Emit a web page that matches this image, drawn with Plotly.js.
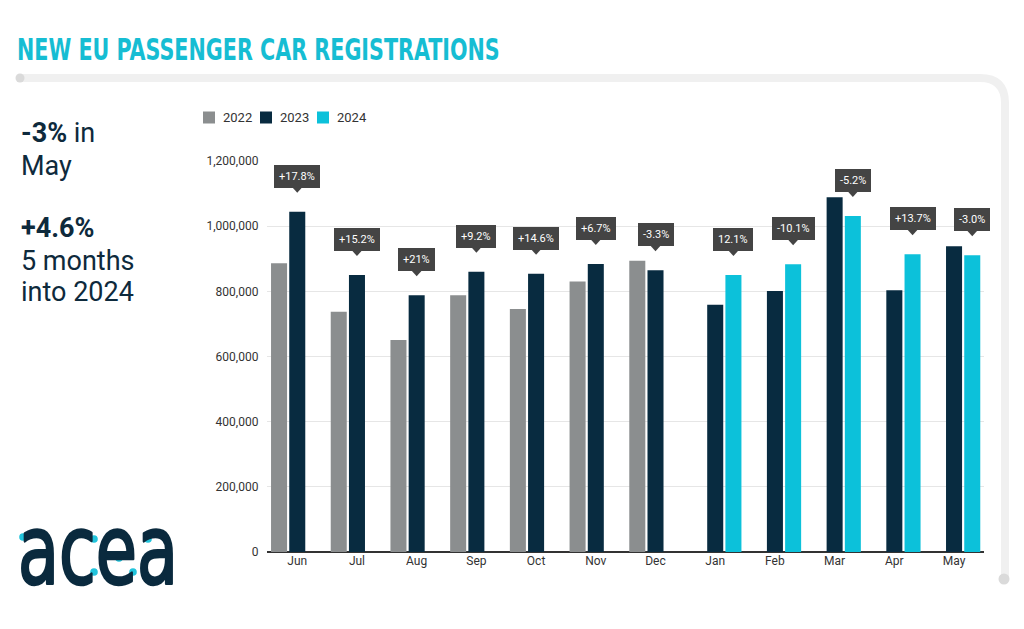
<!DOCTYPE html>
<html>
<head>
<meta charset="utf-8">
<script src="https://cdn.plot.ly/plotly-3.0.1.min.js"></script>
<style>
  html, body { margin: 0; padding: 0; background: #ffffff; }
  #chart { width: 1024px; height: 629px; }
</style>
</head>
<body>
<div id="chart"></div>
<script>
// ---- Data ----
var months = ['Jun', 'Jul', 'Aug', 'Sep', 'Oct', 'Nov', 'Dec', 'Jan', 'Feb', 'Mar', 'Apr', 'May'];
var y2022 = [886000, 737000, 651000, 788000, 746000, 830000, 894000, null, null, null, null, null];
var y2023 = [1044000, 850000, 788000, 860000, 854000, 884000, 865000, 759000, 801000, 1089000, 803000, 938000];
var y2024 = [null, null, null, null, null, null, null, 850000, 883000, 1031000, 914000, 911000];
var changeLabels = ['+17.8%', '+15.2%', '+21%', '+9.2%', '+14.6%', '+6.7%', '-3.3%', '12.1%', '-10.1%', '-5.2%', '+13.7%', '-3.0%'];
var seriesNames = ['2022', '2023', '2024'];
var yTickVals = [0, 200000, 400000, 600000, 800000, 1000000, 1200000];

// ---- Style ----
var W = 1024, H = 629;
var seriesColors = ['#8b8e8f', '#082b40', '#0cc1da'];
var NAVY = '#0e2a3c';
var CYAN = '#16bdd3';
function px(x) { return x / W; }
function py(y) { return 1 - y / H; }

var plotLeft = 267.4, plotRight = 983.9, plotTop = 161, plotBottom = 552;
var bargap = 0.085;
var catStep = (plotRight - plotLeft) / months.length;
var slot = catStep * (1 - bargap) / 3;

var seriesValues = [y2022, y2023, y2024];
var traces = seriesValues.map(function (vals, k) {
  return {type: 'bar', name: seriesNames[k], x: months, y: vals,
          marker: {color: seriesColors[k]}, hoverinfo: 'x+y+name'};
});

var annotations = [];
var shapes = [];

// change boxes above the newer bar
months.forEach(function (m, i) {
  var has24 = y2024[i] !== null;
  var yv = has24 ? y2024[i] : y2023[i];
  var dx = has24 ? slot : 0;
  annotations.push({
    x: m, y: yv, xref: 'x', yref: 'y',
    xanchor: 'center', yanchor: 'bottom',
    xshift: dx, yshift: 24,
    text: changeLabels[i], showarrow: false,
    font: {family: 'Roboto, sans-serif', size: 11, color: '#ffffff'},
    bgcolor: '#444444', borderpad: 5, borderwidth: 0
  });
  shapes.push({
    type: 'path', xref: 'x', yref: 'y',
    xsizemode: 'pixel', ysizemode: 'pixel',
    xanchor: m, yanchor: yv,
    path: 'M ' + (dx - 5) + ',24.5 L ' + (dx + 5) + ',24.5 L ' + dx + ',19 Z',
    fillcolor: '#444444', line: {width: 0}
  });
});

// custom legend (square + label)
seriesNames.forEach(function (name, k) {
  var x0 = 203 + k * 57;
  shapes.push({
    type: 'rect', xref: 'paper', yref: 'paper',
    x0: px(x0), x1: px(x0 + 12), y0: py(123.5), y1: py(111.5),
    fillcolor: seriesColors[k], line: {width: 0}
  });
  annotations.push({
    x: px(x0 + 18), y: py(117.5), xref: 'paper', yref: 'paper',
    xanchor: 'left', yanchor: 'middle', showarrow: false,
    text: name, font: {family: 'Roboto, sans-serif', size: 13, color: '#333333'}
  });
});

// left side text
var leftLines = [
  {t: '<b>-3%</b> in', y: 133.5},
  {t: 'May', y: 165.5},
  {t: '<b>+4.6%</b>', y: 227.5},
  {t: '5 months', y: 260.5},
  {t: 'into 2024', y: 292.5}
];
leftLines.forEach(function (l) {
  annotations.push({
    x: px(19), y: py(l.y), xref: 'paper', yref: 'paper',
    xanchor: 'left', yanchor: 'middle', showarrow: false,
    text: l.t, font: {family: 'Roboto, sans-serif', size: 27, color: NAVY}
  });
});

// logo text + dots
annotations.push({
  x: px(16), y: py(551), xref: 'paper', yref: 'paper',
  xanchor: 'left', yanchor: 'middle', showarrow: false,
  text: 'acea',
  font: {family: '"DejaVu Sans Condensed", sans-serif', size: 96, color: '#0a2a3e'}
});
[[23, 537], [37, 553], [94, 539], [94, 572], [119, 558], [133, 572], [148, 539], [163, 553]].forEach(function (d) {
  shapes.push({
    type: 'circle', xref: 'paper', yref: 'paper',
    xsizemode: 'pixel', ysizemode: 'pixel',
    xanchor: px(d[0]), yanchor: py(d[1]),
    x0: -3.8, x1: 3.8, y0: -3.8, y1: 3.8,
    fillcolor: '#22c4dc', line: {width: 0}
  });
});

// frame
var r = 25;
shapes.push({
  type: 'path', xref: 'paper', yref: 'paper', layer: 'below',
  path: 'M ' + px(20) + ',' + py(78) + ' L ' + px(1005 - r) + ',' + py(78) +
        ' Q ' + px(1005) + ',' + py(78) + ' ' + px(1005) + ',' + py(78 + r) +
        ' L ' + px(1005) + ',' + py(579),
  line: {color: '#f0f0f0', width: 8}
});
[[20, 78, 4.5], [1004, 579, 5.5]].forEach(function (d) {
  shapes.push({
    type: 'circle', xref: 'paper', yref: 'paper',
    xsizemode: 'pixel', ysizemode: 'pixel',
    xanchor: px(d[0]), yanchor: py(d[1]),
    x0: -d[2], x1: d[2], y0: -d[2], y1: d[2],
    fillcolor: '#dadada', line: {width: 0}
  });
});

var layout = {
  width: W, height: H,
  margin: {l: 0, r: 0, t: 0, b: 0},
  paper_bgcolor: '#ffffff', plot_bgcolor: '#ffffff',
  title: {
    text: '<b>NEW EU PASSENGER CAR REGISTRATIONS</b>',
    x: px(17), xanchor: 'left', xref: 'paper',
    y: py(49), yanchor: 'middle', yref: 'container',
    font: {family: '"DejaVu Sans Condensed", sans-serif', size: 31, color: CYAN}
  },
  barmode: 'group', bargap: bargap, bargroupgap: 0.12,
  showlegend: false,
  xaxis: {
    domain: [px(plotLeft), px(plotRight)],
    type: 'category', range: [-0.5, 11.5],
    showgrid: false, showline: false, ticks: '',
    tickfont: {family: 'Roboto, sans-serif', size: 12, color: '#333333'},
    fixedrange: true
  },
  yaxis: {
    domain: [py(plotBottom), py(plotTop)],
    range: [0, 1200000],
    tickmode: 'array', tickvals: yTickVals,
    tickformat: ',d',
    showgrid: true, gridcolor: '#e6e6e6', gridwidth: 1,
    zeroline: true, zerolinecolor: '#333333', zerolinewidth: 1.5,
    showline: false, ticks: '',
    ticklabelstandoff: 8,
    tickfont: {family: 'Roboto, sans-serif', size: 12, color: '#333333'},
    fixedrange: true
  },
  annotations: annotations,
  shapes: shapes,
  font: {family: 'Roboto, sans-serif'}
};

// horizontally condense a text element to a target pixel width (keeps its left edge)
function condense(el, targetWidth) {
  if (!el) return;
  var bb = el.getBBox();
  if (!bb.width) return;
  var s = targetWidth / bb.width;
  var prev = el.getAttribute('transform') || '';
  el.setAttribute('transform', prev + ' translate(' + bb.x + ',0) scale(' + s + ',1) translate(' + (-bb.x) + ',0)');
}

Plotly.newPlot('chart', traces, layout, {displayModeBar: false, staticPlot: true}).then(function (gd) {
  condense(gd.querySelector('.g-gtitle text'), 483);
  var texts = gd.querySelectorAll('.annotation-text');
  for (var i = 0; i < texts.length; i++) {
    if (texts[i].textContent === 'acea') {
      condense(texts[i], 160);
      texts[i].style.stroke = '#0a2a3e';
      texts[i].style.strokeWidth = '2.6px';
      texts[i].style.strokeLinejoin = 'round';
    }
  }
});
</script>
</body>
</html>
